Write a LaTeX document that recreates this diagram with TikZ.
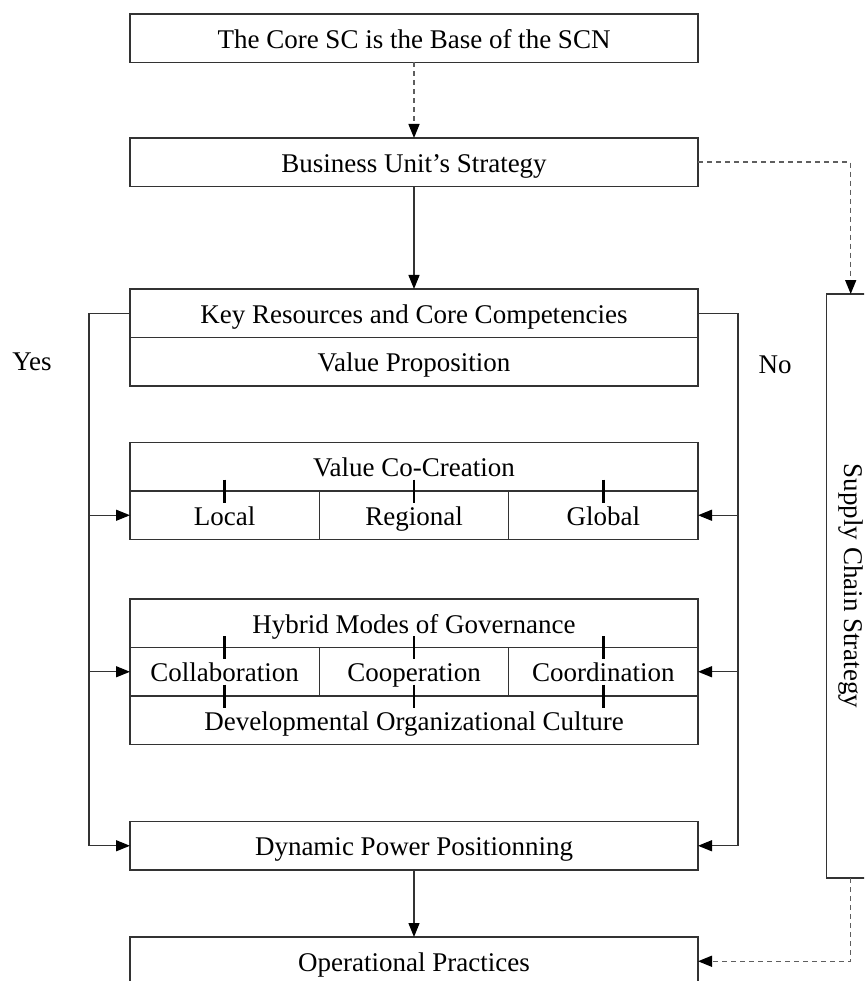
\documentclass[tikz,border=0pt]{standalone}
\usepackage{fontspec}
\setmainfont{Liberation Serif}
\usetikzlibrary{arrows.meta, positioning}
\definecolor{BoxLine}{HTML}{333333}
\definecolor{DashGray}{HTML}{5E5E5E}

\begin{document}
\begin{tikzpicture}[
        x=1pt, y=-1pt,
        node distance=0pt,
        stagebox/.style={rectangle, draw=BoxLine, fill=white, minimum width=568pt, minimum height=48.5pt, inner sep=0pt, outer sep=0pt, line width=1.3pt, text height=22pt, text depth=2pt, font=\fontsize{27pt}{30pt}\selectfont},
        cellbox/.style={stagebox, minimum width=568pt/3},
        sidelabel/.style={font=\fontsize{27pt}{30pt}\selectfont},
        tickmark/.style={line width=2.6pt, black},
        flow/.style={draw=BoxLine, line width=1.3pt, -{Triangle[length=14pt, width=11pt, color=black]}},
        dashflow/.style={flow, draw=DashGray, line width=1.5pt, dash pattern=on 5pt off 4pt}
    ]
        \useasboundingbox (0,0) rectangle (864,981);
        \clip (0,0) rectangle (864,981);

        % Nodes
        \node (core) [stagebox] at (414,38.25) {The Core SC is the Base of the SCN};
        \node (bus) [stagebox, below=75.5pt of core] {Business Unit’s Strategy};
        \node (key) [stagebox, below=102.5pt of bus] {Key Resources and Core Competencies};
        \node (prop) [stagebox, below=of key] {Value Proposition};

        \node (cocreate) [stagebox, below=56.5pt of prop] {Value Co-Creation};
        \node (local) [cellbox, anchor=north west] at (cocreate.south west) {Local};
        \node (regional) [cellbox, right=of local] {Regional};
        \node (global) [cellbox, right=of regional] {Global};

        \node (hybrid) [stagebox, below=59.5pt of regional] {Hybrid Modes of Governance};
        \node (collab) [cellbox, anchor=north west] at (hybrid.south west) {Collaboration};
        \node (coop) [cellbox, right=of collab] {Cooperation};
        \node (coord) [cellbox, right=of coop] {Coordination};
        \node (culture) [stagebox, below=of coop] {Developmental Organizational Culture};

        \node (power) [stagebox, below=77pt of culture] {Dynamic Power Positionning};
        \node (practice) [stagebox, below=67pt of power] {Operational Practices};

        \node (scs) [draw=BoxLine, line width=1.3pt, minimum width=48pt, minimum height=584pt, outer sep=0pt] at (850.7,586) {};
        \node (scslabel) [sidelabel, rotate=-90] at (scs) {Supply Chain Strategy};

        % Ticks
        \foreach \cell in {local, regional, global}
            \draw [tickmark] ([yshift=11.5pt]\cell.north) -- ([yshift=-11.5pt]\cell.north);
        \foreach \cell in {collab, coop, coord} {
            \draw [tickmark] ([yshift=11.5pt]\cell.north) -- ([yshift=-11.5pt]\cell.north);
            \draw [tickmark] ([yshift=11.5pt]\cell.south) -- ([yshift=-11.5pt]\cell.south);
        }

        % Connectors
        \draw [dashflow] (core) -- (bus);
        \draw [flow] (bus) -- (key);
        \draw [flow] (power) -- (practice);
        \draw [dashflow] (bus.east) -| (scs.north);
        \draw [dashflow] (scs.south) |- (practice.east);

        \coordinate (yesbend) at ([xshift=-41pt]key.west);
        \coordinate (nobend) at ([xshift=40pt]key.east);
        \draw [flow] (key.west) -- (yesbend) |- (power.west);
        \draw [flow] (yesbend |- local.west) -- (local.west);
        \draw [flow] (yesbend |- collab.west) -- (collab.west);
        \draw [flow] (key.east) -- (nobend) |- (power.east);
        \draw [flow] (nobend |- global.east) -- (global.east);
        \draw [flow] (nobend |- coord.east) -- (coord.east);

        % Labels
        \node (yes) [sidelabel] at (32,362) {Yes};
        \node (no) [sidelabel] at (775,365) {No};
    \end{tikzpicture}
\end{document}
